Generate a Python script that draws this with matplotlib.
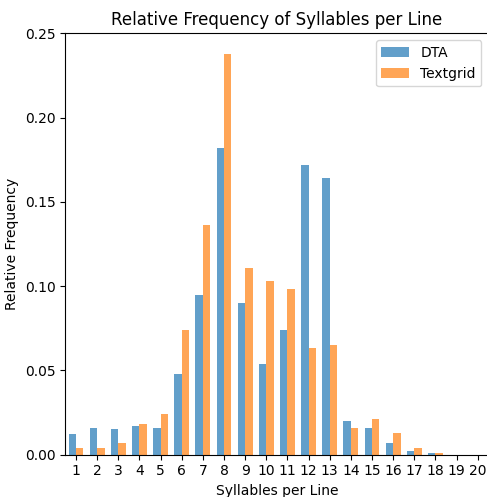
import numpy as np
import matplotlib
matplotlib.use("Agg")
import matplotlib.pyplot as plt

syllables = list(range(1, 21))
dta = [0.012, 0.016, 0.015, 0.017, 0.016, 0.048, 0.095, 0.182, 0.090, 0.054,
       0.074, 0.172, 0.164, 0.020, 0.016, 0.007, 0.002, 0.0006, 0.0, 0.0]
textgrid = [0.004, 0.004, 0.007, 0.018, 0.024, 0.074, 0.136, 0.238, 0.111, 0.103,
            0.098, 0.063, 0.065, 0.016, 0.021, 0.013, 0.004, 0.0006, 0.0, 0.0]

fig, ax = plt.subplots(figsize=(4.87, 4.97), dpi=100)
# axes run slightly past the right edge, as in the cropped original
fig.subplots_adjust(left=0.1343, right=1.0027, top=0.9326, bottom=0.0855)

x = np.array(syllables)
w = 0.35
ax.bar(x - w / 2, dta, w, label="DTA", color="tab:blue", alpha=0.7)
ax.bar(x + w / 2, textgrid, w, label="Textgrid", color="tab:orange", alpha=0.7)

ax.set_xticks(x)
ax.set_xlim(0.5, 20.5)
ax.set_ylim(0, 0.25)
ax.set_title("Relative Frequency of Syllables per Line")
ax.set_xlabel("Syllables per Line")
ax.set_ylabel("Relative Frequency")
ax.legend(loc="upper right")

fig.savefig("out.png", dpi=100)
